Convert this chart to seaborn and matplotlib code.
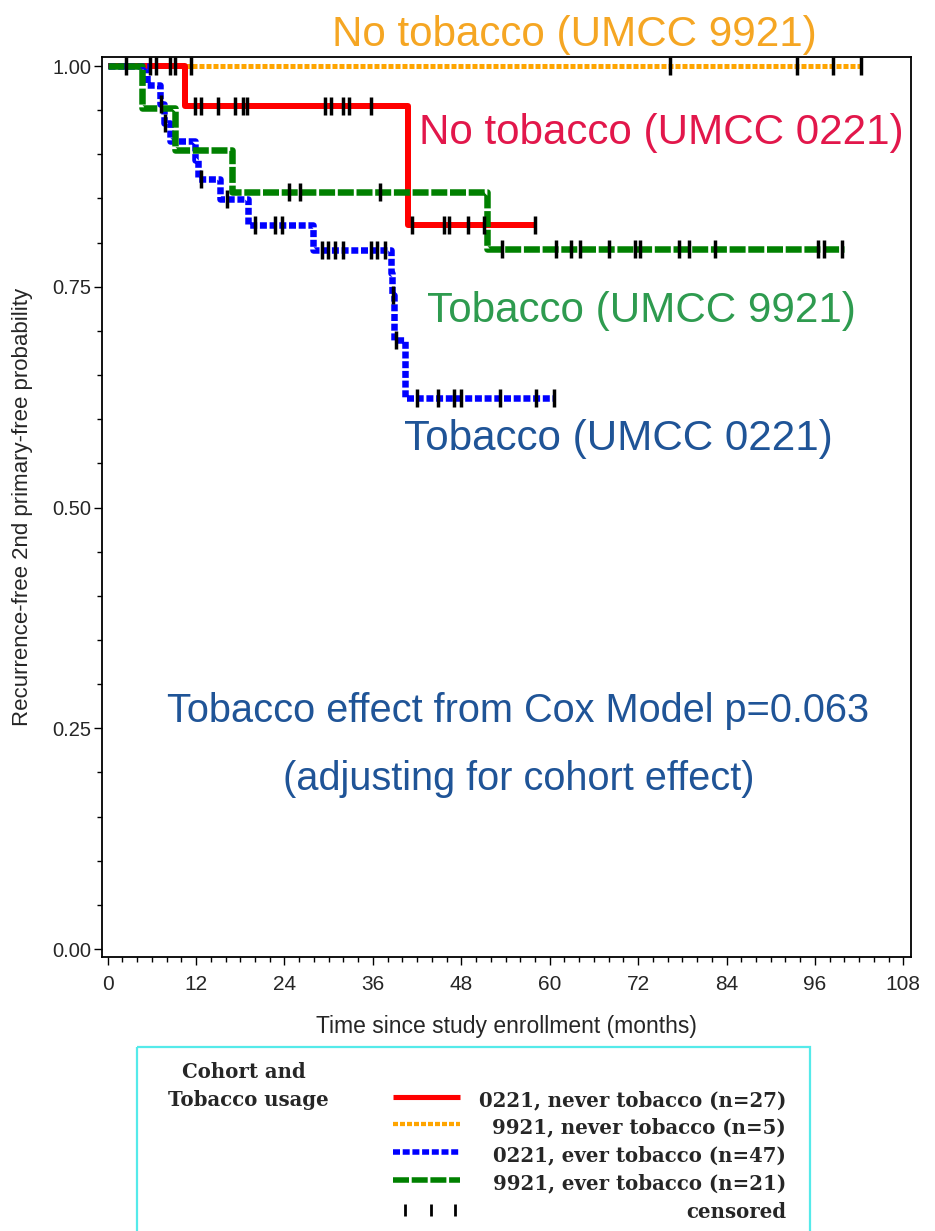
import numpy as np
import pandas as pd
import matplotlib
matplotlib.use("Agg")
import matplotlib.pyplot as plt
import seaborn as sns
from matplotlib.patches import Rectangle
from matplotlib.ticker import MultipleLocator, FormatStrFormatter

# ---------------- Kaplan-Meier data (months, survival) ----------------
red_event_t = [10.5, 40.8]
red_event_s = [0.955, 0.820]
red_cens = [5.8, 6.6, 8.4, 9.2, 11.9, 12.6, 15.0, 17.3, 18.4, 18.9, 29.5, 30.3,
            31.9, 32.7, 35.7, 41.3, 45.6, 46.3, 48.9, 51.1, 58.0]
red_end = 58.2

orange_event_t = []
orange_event_s = []
orange_cens = [11.3, 76.3, 93.6, 98.4, 102.3]
orange_end = 102.4

blue_event_t = [5.4, 7.1, 7.6, 8.4, 11.8, 12.3, 15.3, 19.1, 27.9,
                38.5, 38.6, 38.8, 38.9, 40.4]
blue_event_s = [0.979, 0.957, 0.936, 0.915, 0.894, 0.872, 0.849, 0.820, 0.792,
                0.766, 0.741, 0.715, 0.690, 0.624]
blue_cens = [7.3, 7.8, 12.7, 16.2, 20.0, 22.7, 23.6, 29.1, 29.9, 30.8, 31.9,
             35.7, 36.5, 37.6, 38.7, 39.2, 42.0, 44.8, 47.0, 48.0, 53.3, 58.2, 60.6]
blue_end = 60.7

green_event_t = [4.7, 9.2, 16.9, 51.5]
green_event_s = [0.952, 0.905, 0.857, 0.793]
green_cens = [2.5, 24.6, 26.1, 36.9, 53.5, 60.9, 62.9, 64.1, 68.0, 71.6, 72.3,
              77.5, 78.9, 82.5, 96.4, 97.2, 99.7]
green_end = 99.9

group_labels = ["0221, never tobacco (n=27)", "9921, never tobacco (n=5)",
                "0221, ever tobacco (n=47)", "9921, ever tobacco (n=21)"]

x_ticks = [0, 12, 24, 36, 48, 60, 72, 84, 96, 108]
y_ticks = [0.00, 0.25, 0.50, 0.75, 1.00]

# ---------------- styles ----------------
PX = 0.72  # points per pixel at 100 dpi
styles = {
    "red":    dict(color="#FF0000", lw=6.0 * PX, dash=None),
    "orange": dict(color="#FFA500", lw=5.0 * PX, dash=(5 * PX, 2 * PX)),
    "blue":   dict(color="#0000FF", lw=6.5 * PX, dash=(7 * PX, 2.7 * PX)),
    "green":  dict(color="#008000", lw=6.5 * PX, dash=(16 * PX, 2.7 * PX)),
}

curves = {
    "red": (red_event_t, red_event_s, red_cens, red_end),
    "orange": (orange_event_t, orange_event_s, orange_cens, orange_end),
    "blue": (blue_event_t, blue_event_s, blue_cens, blue_end),
    "green": (green_event_t, green_event_s, green_cens, green_end),
}


def step_frame(ev_t, ev_s, end):
    t = [0.0] + list(ev_t) + [end]
    last = ev_s[-1] if ev_s else 1.0
    s = [1.0] + list(ev_s) + [last]
    return pd.DataFrame({"time": t, "surv": s})


def step_value(ev_t, ev_s, t):
    times = np.asarray([0.0] + list(ev_t))
    vals = np.asarray([1.0] + list(ev_s))
    idx = np.searchsorted(times, t, side="right") - 1
    return vals[idx]


sns.set_style("ticks")
plt.rcParams["lines.scale_dashes"] = False
plt.rcParams["font.family"] = ["Liberation Sans", "DejaVu Sans"]

fig = plt.figure(figsize=(9.35, 12.31), dpi=100)
W, H = 935, 1231
ax_l, ax_r, ax_t, ax_b = 102.3, 910.7, 57.0, 956.7
ax = fig.add_axes([ax_l / W, 1 - ax_b / H, (ax_r - ax_l) / W, (ax_b - ax_t) / H])

for z, key in enumerate(["orange", "red", "blue", "green"]):
    ev_t, ev_s, cens, end = curves[key]
    st = styles[key]
    df = step_frame(ev_t, ev_s, end)
    ls = "-" if st["dash"] is None else (0, st["dash"])
    sns.lineplot(data=df, x="time", y="surv", ax=ax, color=st["color"],
                 linewidth=st["lw"], linestyle=ls, drawstyle="steps-post",
                 estimator=None, sort=False, zorder=2 + z,
                 solid_capstyle="butt", dash_capstyle="butt")

# censoring marks
for key in ["orange", "red", "blue", "green"]:
    ev_t, ev_s, cens, end = curves[key]
    cy = step_value(ev_t, ev_s, np.asarray(cens))
    ax.plot(cens, cy, linestyle="none", marker="|", markersize=13.5,
            markeredgewidth=2.5, color="black", zorder=10)

ax.set_xlim(-0.73, 109.0)
ax.set_ylim(-0.0087, 1.0102)
ax.xaxis.set_major_locator(MultipleLocator(12))
ax.xaxis.set_minor_locator(MultipleLocator(2))
ax.yaxis.set_major_locator(MultipleLocator(0.25))
ax.yaxis.set_minor_locator(MultipleLocator(0.05))
ax.yaxis.set_major_formatter(FormatStrFormatter("%.2f"))
ax.set_xticks(x_ticks)
ax.set_yticks(y_ticks)
for sp in ax.spines.values():
    sp.set_visible(True)
    sp.set_linewidth(1.3)
    sp.set_color("black")
ax.tick_params(axis="both", which="major", direction="out", length=5.5, width=1.0, color="black")
ax.tick_params(axis="both", which="minor", direction="out", length=3.5, width=1.0, color="black")
ax.tick_params(axis="x", which="major", pad=8)
ax.tick_params(axis="y", which="major", pad=2.5)

for lab in ax.get_xticklabels():
    lab.set_fontsize(15)
for lab in ax.get_yticklabels():
    lab.set_fontsize(14.5)

ax.set_xlabel("Time since study enrollment (months)", fontsize=16.5)
ax.set_ylabel("Recurrence-free 2nd primary-free probability", fontsize=16)
ax.xaxis.set_label_coords(0.5, -0.065)
ax.yaxis.set_label_coords(-0.0857, 0.5)
ax.grid(False)

# ---------------- overlay in pixel coordinates ----------------
ov = fig.add_axes([0, 0, 1, 1], zorder=20)
ov.set_xlim(0, W)
ov.set_ylim(H, 0)
ov.axis("off")
ov.patch.set_visible(False)

big = 30.3
mid = 28.6
ov.text(574, 45.7, "No tobacco (UMCC 9921)", color="#F5A623", fontsize=big, ha="center", va="baseline")
ov.text(661, 144, "No tobacco (UMCC 0221)", color="#E2174B", fontsize=big, ha="center", va="baseline")
ov.text(641.5, 321.7, "Tobacco (UMCC 9921)", color="#2E9B4F", fontsize=big, ha="center", va="baseline")
ov.text(618.5, 450, "Tobacco (UMCC 0221)", color="#1F5497", fontsize=big, ha="center", va="baseline")
ov.text(518.5, 722, "Tobacco effect from Cox Model p=0.063", color="#1F5497", fontsize=mid, ha="center", va="baseline")
ov.text(518.5, 790, "(adjusting for cohort effect)", color="#1F5497", fontsize=mid, ha="center", va="baseline")

# legend box
ov.add_patch(Rectangle((137, 1047), 673, 200, fill=False, edgecolor="#55EAEA", linewidth=1.6))
lfont = dict(family=["DejaVu Serif"], weight="bold", fontsize=14.2)
ov.text(244, 1072, "Cohort and", ha="center", va="center", **lfont)
ov.text(248, 1100, "Tobacco usage", ha="center", va="center", **lfont)

row_y = [1100, 1127, 1155, 1183]
for key, lab, yy in zip(["red", "orange", "blue", "green"], group_labels, row_y):
    st = styles[key]
    ls = "-" if st["dash"] is None else (0, st["dash"])
    ov.plot([393, 460], [yy - 3, yy - 3], color=st["color"], linewidth=st["lw"] * 0.85,
            linestyle=ls, solid_capstyle="butt", dash_capstyle="butt")
    ov.text(786, yy, lab, ha="right", va="center", **lfont)
ov.plot([405, 431, 455], [1210, 1210, 1210], linestyle="none", marker="|",
        markersize=9, markeredgewidth=2.0, color="black")
ov.text(786, 1212, "censored", ha="right", va="center", **lfont)

fig.savefig("out.png", dpi=100)
